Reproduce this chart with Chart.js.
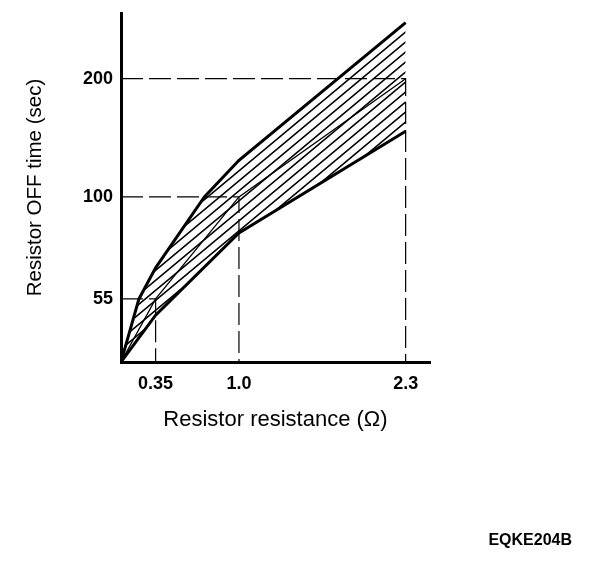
<!DOCTYPE html>
<html><head><meta charset="utf-8">
<style>html,body{margin:0;padding:0;background:#fff}#wrap{width:608px;height:564px}</style>
<script src="https://cdn.jsdelivr.net/npm/chart.js@4.4.1/dist/chart.umd.min.js"></script>
</head><body><div id="wrap"><canvas id="c" width="608" height="564"></canvas></div>
<script>
// ---- data ----
const resistanceUpper = [0.08, 0.22, 0.35, 0.73, 1.0, 2.3];
const timeUpper       = [38, 55, 66, 100, 124, 278];
const resistanceLower = [0.08, 0.35, 1.0, 2.3];
const timeLower       = [38, 50, 81, 147];
const resistanceNominal = [0.08, 0.35, 1.0, 2.3];
const timeNominal       = [38, 55, 100, 200];
const xTicks = [0.35, 1.0, 2.3];
const xTickLabels = ['0.35', '1.0', '2.3'];
const yTicks = [55, 100, 200];
const yTickLabels = ['55', '100', '200'];
const xMin = 0.08, xMax = 2.49, yMin = 38, yMax = 294;
const figureCode = 'EQKE204B';

const FAMILY = '"Liberation Sans", Arial, Helvetica, sans-serif';
const pts = (xs, ys) => xs.map((x, i) => ({x, y: ys[i]}));

function hatchPattern() {
  const w = 12, h = 10;
  const c = document.createElement('canvas');
  c.width = w; c.height = h;
  const g = c.getContext('2d');
  g.strokeStyle = '#000'; g.lineWidth = 1.6;
  g.beginPath();
  for (const dy of [-h, 0, h]) { g.moveTo(-1, h + dy + 10/12); g.lineTo(w + 1, dy - 10/12); }
  g.stroke();
  return g.createPattern(c, 'repeat');
}

const refSets = xTicks.map((xv, i) => ({
  data: [{x: xMin, y: yTicks[i]}, {x: xv, y: yTicks[i]}, {x: xv, y: yMin}],
  borderColor: '#000', borderWidth: 1.2, borderDash: [22, 6], fill: false
}));

const codePlugin = {
  id: 'code',
  afterDraw(chart) {
    const ctx = chart.ctx;
    ctx.save();
    ctx.font = 'bold 16px ' + FAMILY;
    ctx.fillStyle = '#000';
    ctx.textBaseline = 'middle';
    ctx.textAlign = 'right';
    ctx.fillText(figureCode, 572, 541);
    ctx.restore();
  }
};

new Chart(document.getElementById('c'), {
  type: 'line',
  data: {
    datasets: [
      { data: pts(resistanceUpper, timeUpper), borderColor: '#000', borderWidth: 3,
        fill: {target: 1}, backgroundColor: hatchPattern() },
      { data: pts(resistanceLower, timeLower), borderColor: '#000', borderWidth: 3, fill: false },
      { data: pts(resistanceNominal, timeNominal), borderColor: '#000', borderWidth: 1.3, fill: false },
      ...refSets
    ]
  },
  options: {
    responsive: false,
    animation: false,
    layout: { padding: { left: 0, right: 178, top: 13, bottom: 131 } },
    plugins: { legend: { display: false }, tooltip: { enabled: false } },
    elements: { point: { radius: 0 }, line: { tension: 0 } },
    scales: {
      x: {
        type: 'linear', min: xMin, max: xMax,
        grid: { display: false, drawTicks: false },
        border: { display: true, color: '#000', width: 3 },
        afterBuildTicks: s => { s.ticks = xTicks.map(v => ({value: v})); },
        ticks: { autoSkip: false, maxRotation: 0, padding: 11, color: '#000',
          font: { family: FAMILY, size: 18, weight: 'bold' },
          callback: v => { const i = xTicks.indexOf(v); return i >= 0 ? xTickLabels[i] : ''; } },
        title: { display: true, text: 'Resistor resistance (Ω)', color: '#000',
          font: { family: FAMILY, size: 22 }, padding: { top: 1, bottom: 0 } }
      },
      y: {
        type: 'logarithmic', min: yMin, max: yMax,
        grid: { display: false, drawTicks: false },
        border: { display: true, color: '#000', width: 3 },
        afterBuildTicks: s => { s.ticks = yTicks.map(v => ({value: v})); },
        afterFit: s => { s.width = 121; s.paddingTop = 0; s.paddingBottom = 0; },
        ticks: { autoSkip: false, padding: 8, color: '#000',
          font: { family: FAMILY, size: 18, weight: 'bold' },
          callback: v => { const i = yTicks.indexOf(v); return i >= 0 ? yTickLabels[i] : ''; } },
        title: { display: true, text: 'Resistor OFF time (sec)', color: '#000',
          font: { family: FAMILY, size: 20.5 }, padding: { top: 23, bottom: 0 } }
      }
    }
  },
  plugins: [codePlugin]
});
</script>
</body></html>
